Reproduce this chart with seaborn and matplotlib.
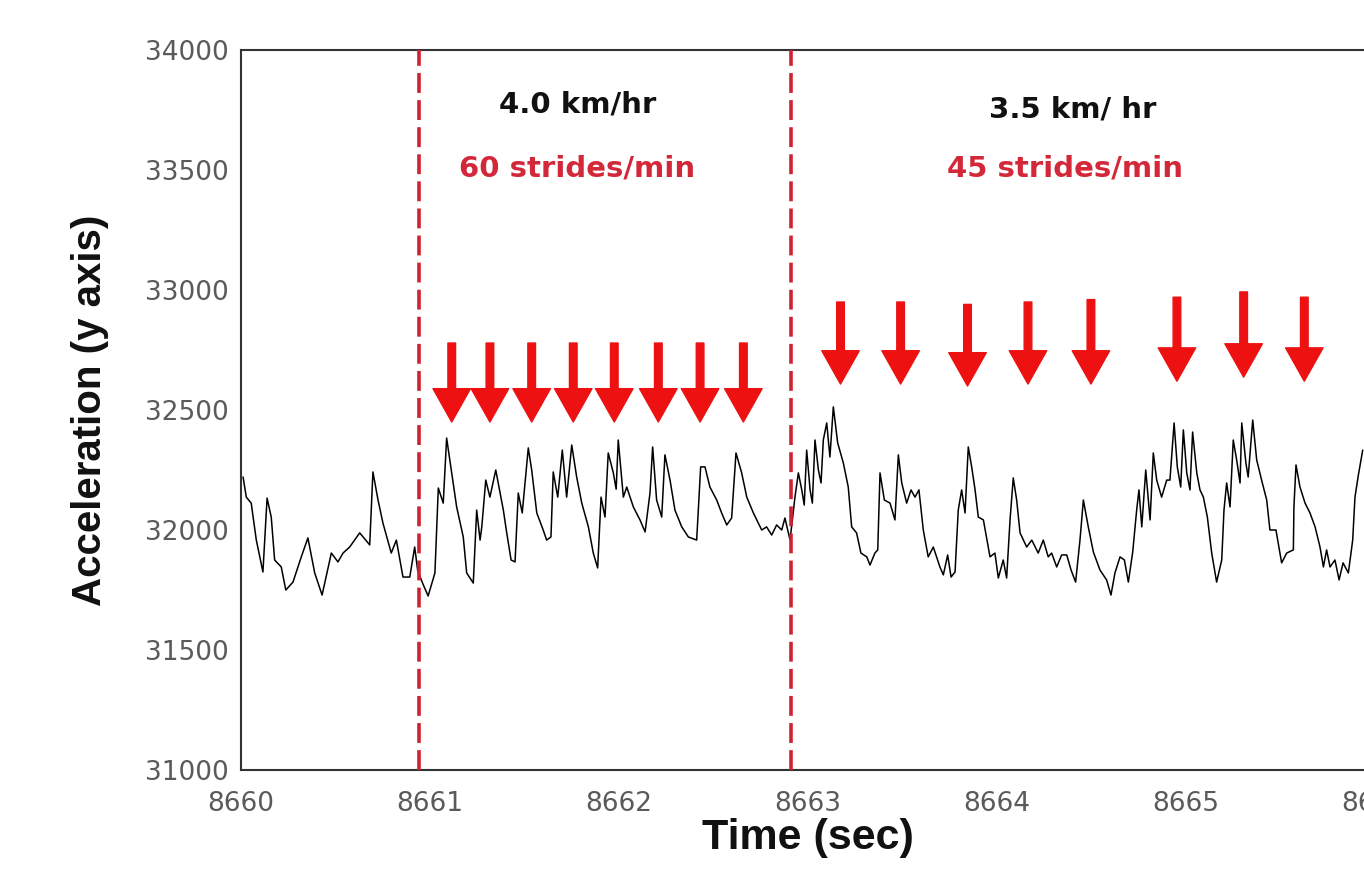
"""Accelerometer trace (y axis) while walking at two treadmill speeds."""

import matplotlib
matplotlib.use("Agg")
import matplotlib.pyplot as plt
from matplotlib import font_manager
import seaborn as sns

sns.set_style("white")
plt.rcParams["font.family"] = ["DejaVu Sans"]

# time stamps (sec) and acceleration counts
time_s = [
    8660.011, 8660.028, 8660.054, 8660.081, 8660.116, 8660.138, 8660.160, 8660.178,
    8660.213, 8660.237, 8660.275, 8660.319, 8660.354, 8660.390, 8660.429, 8660.478,
    8660.513, 8660.540, 8660.575, 8660.628, 8660.681, 8660.698, 8660.725, 8660.751,
    8660.795, 8660.822, 8660.857, 8660.893, 8660.919, 8660.935, 8660.960, 8660.990,
    8661.026, 8661.044, 8661.070, 8661.088, 8661.115, 8661.141, 8661.176, 8661.194,
    8661.229, 8661.247, 8661.265, 8661.274, 8661.295, 8661.317, 8661.348, 8661.365,
    8661.388, 8661.406, 8661.429, 8661.450, 8661.467, 8661.488, 8661.520, 8661.538,
    8661.565, 8661.599, 8661.617, 8661.640, 8661.652, 8661.676, 8661.700, 8661.723,
    8661.750, 8661.776, 8661.803, 8661.838, 8661.864, 8661.887, 8661.905, 8661.926,
    8661.943, 8661.970, 8661.985, 8661.996, 8662.023, 8662.041, 8662.076, 8662.111,
    8662.138, 8662.164, 8662.178, 8662.199, 8662.226, 8662.243, 8662.270, 8662.296,
    8662.332, 8662.367, 8662.411, 8662.432, 8662.455, 8662.481, 8662.517, 8662.543,
    8662.570, 8662.596, 8662.619, 8662.649, 8662.676, 8662.711, 8662.755, 8662.781,
    8662.808, 8662.834, 8662.861, 8662.878, 8662.905, 8662.931, 8662.949, 8662.967,
    8662.980, 8662.993, 8663.011, 8663.023, 8663.037, 8663.055, 8663.069, 8663.081,
    8663.099, 8663.116, 8663.134, 8663.157, 8663.187, 8663.213, 8663.231, 8663.257,
    8663.280, 8663.311, 8663.328, 8663.354, 8663.369, 8663.381, 8663.404, 8663.434,
    8663.460, 8663.478, 8663.496, 8663.522, 8663.545, 8663.566, 8663.587, 8663.610,
    8663.636, 8663.663, 8663.698, 8663.716, 8663.739, 8663.757, 8663.778, 8663.795,
    8663.813, 8663.831, 8663.848, 8663.866, 8663.884, 8663.901, 8663.928, 8663.963,
    8663.989, 8664.007, 8664.033, 8664.051, 8664.069, 8664.086, 8664.104, 8664.122,
    8664.157, 8664.184, 8664.218, 8664.245, 8664.271, 8664.289, 8664.316, 8664.342,
    8664.369, 8664.392, 8664.416, 8664.439, 8664.457, 8664.483, 8664.510, 8664.545,
    8664.580, 8664.603, 8664.624, 8664.651, 8664.674, 8664.695, 8664.718, 8664.739,
    8664.751, 8664.766, 8664.787, 8664.810, 8664.827, 8664.845, 8664.871, 8664.898,
    8664.915, 8664.937, 8664.954, 8664.972, 8664.986, 8665.004, 8665.021, 8665.035,
    8665.057, 8665.074, 8665.092, 8665.113, 8665.136, 8665.162, 8665.189, 8665.201,
    8665.215, 8665.233, 8665.250, 8665.268, 8665.286, 8665.295, 8665.317, 8665.329,
    8665.353, 8665.374, 8665.400, 8665.427, 8665.444, 8665.476, 8665.506, 8665.533,
    8665.568, 8665.571, 8665.582, 8665.603, 8665.630, 8665.656, 8665.683, 8665.709,
    8665.727, 8665.744, 8665.762, 8665.788, 8665.810, 8665.831, 8665.859, 8665.882,
    8665.894, 8665.912, 8665.935,
]
accel = [
    32221, 32137, 32112, 31958, 31825, 32133, 32054, 31875,
    31846, 31750, 31783, 31888, 31967, 31821, 31729, 31904,
    31867, 31904, 31929, 31988, 31938, 32242, 32125, 32029,
    31904, 31958, 31804, 31804, 31929, 31830, 31780, 31725,
    31821, 32175, 32112, 32383, 32238, 32096, 31971, 31821,
    31779, 32083, 31958, 32013, 32208, 32137, 32250, 32179,
    32083, 31988, 31875, 31867, 32154, 32071, 32342, 32250,
    32071, 32000, 31958, 31971, 32242, 32137, 32333, 32137,
    32354, 32221, 32112, 32013, 31904, 31842, 32137, 32054,
    32321, 32238, 32170, 32375, 32137, 32179, 32096, 32042,
    31992, 32154, 32346, 32125, 32054, 32313, 32208, 32083,
    32013, 31971, 31958, 32263, 32263, 32179, 32125, 32071,
    32021, 32050, 32321, 32238, 32137, 32071, 32000, 32013,
    31979, 32021, 32000, 32050, 31958, 32137, 32238, 32167,
    32104, 32333, 32167, 32112, 32375, 32250, 32196, 32375,
    32446, 32304, 32513, 32363, 32279, 32179, 32013, 31988,
    31904, 31888, 31854, 31904, 31917, 32238, 32125, 32112,
    32042, 32313, 32196, 32112, 32167, 32137, 32167, 32000,
    31888, 31929, 31846, 31813, 31896, 31804, 31825, 32083,
    32167, 32071, 32346, 32263, 32167, 32054, 32042, 31888,
    31904, 31800, 31875, 31800, 32042, 32217, 32125, 31988,
    31929, 31958, 31904, 31958, 31888, 31904, 31846, 31896,
    31896, 31833, 31783, 31958, 32125, 32013, 31908, 31833,
    31792, 31729, 31821, 31888, 31875, 31783, 31908, 32083,
    32167, 32013, 32250, 32042, 32321, 32208, 32137, 32208,
    32208, 32446, 32263, 32179, 32417, 32238, 32167, 32408,
    32238, 32167, 32137, 32054, 31904, 31783, 31875, 32083,
    32196, 32096, 32375, 32292, 32196, 32446, 32279, 32221,
    32458, 32292, 32208, 32125, 32000, 32000, 31863, 31904,
    31917, 32096, 32271, 32179, 32112, 32071, 32013, 31929,
    31846, 31917, 31846, 31875, 31792, 31863, 31821, 31958,
    32137, 32229, 32333,
]

# speed changes (sec)
speed_changes = [8660.942, 8662.910]

# stride marks: time, arrow tip and tail (acceleration units)
strides_fast = [8661.115, 8661.317, 8661.538, 8661.758, 8661.975, 8662.208, 8662.429, 8662.658]
fast_tip, fast_tail = 32450, 32779
strides_slow = [8663.172, 8663.490, 8663.844, 8664.164, 8664.497, 8664.952, 8665.305, 8665.626]
slow_tips = [32608, 32608, 32600, 32608, 32608, 32620, 32637, 32620]
slow_tails = [32950, 32950, 32940, 32950, 32960, 32970, 32992, 32970]

x_ticks = [8660, 8661, 8662, 8663, 8664, 8665, 8666]
y_ticks = [31000, 31500, 32000, 32500, 33000, 33500, 34000]

red_line = "#cf2231"
red_text = "#d3283a"
red_arrow = "#ee1111"

fig = plt.figure(figsize=(13.64, 8.91), dpi=100)
ax = fig.add_axes([241 / 1364, 121 / 891, 1134 / 1364, 720 / 891])

sns.lineplot(x=time_s, y=accel, ax=ax, color="black", linewidth=1.1,
             estimator=None, sort=False)

for t in speed_changes:
    ax.axvline(t, color=red_line, linewidth=2.6, dashes=(5.5, 2.0), zorder=3)

arrow_style = dict(facecolor=red_arrow, edgecolor=red_arrow, width=5.5,
                   headwidth=27, headlength=24, shrink=0)
for t in strides_fast:
    ax.annotate("", xy=(t, fast_tip), xytext=(t, fast_tail), arrowprops=arrow_style)
for t, tip, tail in zip(strides_slow, slow_tips, slow_tails):
    ax.annotate("", xy=(t, tip), xytext=(t, tail), arrowprops=arrow_style)

ax.text(8661.78, 33771, "4.0 km/hr", ha="center", va="center",
        fontsize=21, fontweight="bold", color="#111111")
ax.text(8661.78, 33508, "60 strides/min", ha="center", va="center",
        fontsize=21, fontweight="bold", color=red_text)
ax.text(8664.40, 33750, "3.5 km/ hr", ha="center", va="center",
        fontsize=21, fontweight="bold", color="#111111")
ax.text(8664.36, 33508, "45 strides/min", ha="center", va="center",
        fontsize=21, fontweight="bold", color=red_text)

ax.set_xlim(8660, 8666)
ax.set_ylim(31000, 34000)
ax.set_xticks(x_ticks)
ax.set_yticks(y_ticks)
ax.tick_params(axis="both", direction="in", length=6, width=1.2,
               color="#333333", labelcolor="#5a5a5a", labelsize=19)
ax.tick_params(axis="x", pad=15)
ax.tick_params(axis="y", pad=9)

for side in ["left", "bottom", "top"]:
    ax.spines[side].set_visible(True)
    ax.spines[side].set_color("#333333")
    ax.spines[side].set_linewidth(1.5)
ax.spines["right"].set_visible(False)

# axis titles in a condensed bold face when one is installed
installed = {f.name for f in font_manager.fontManager.ttflist}
if "Liberation Sans Narrow" in installed:
    label_font, xlabel_size, ylabel_size = "Liberation Sans Narrow", 36, 33
else:
    label_font, xlabel_size, ylabel_size = "Liberation Sans", 31, 29

ax.set_xlabel("Time (sec)", family=label_font, fontsize=xlabel_size,
              fontweight="bold", color="#111111")
ax.set_ylabel("Acceleration (y axis)", family=label_font, fontsize=ylabel_size,
              fontweight="bold", color="#111111")
ax.xaxis.label.set_va("center")
ax.yaxis.label.set_va("center")
ax.xaxis.set_label_coords(567 / 1134, -0.094)
ax.yaxis.set_label_coords(-151 / 1134, 0.5)

fig.savefig("out.png", dpi=100)
